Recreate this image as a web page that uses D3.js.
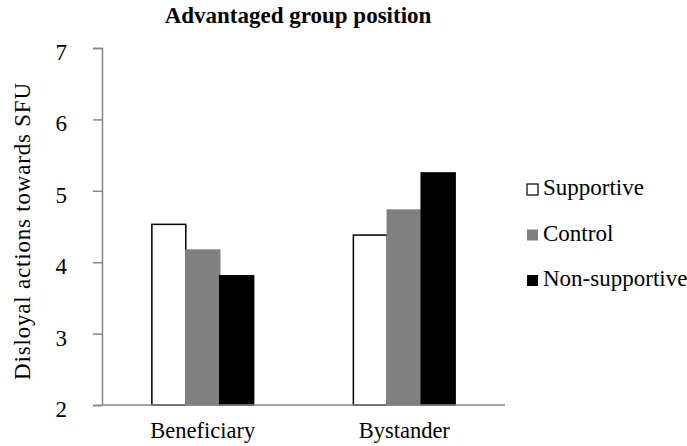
<!DOCTYPE html>
<html>
<head>
<meta charset="utf-8">
<script src="https://cdn.jsdelivr.net/npm/d3@7"></script>
<style>
  body { margin: 0; background: #fff; }
</style>
</head>
<body>
<script>
var groups = ["Beneficiary", "Bystander"];
var series = ["Supportive", "Control", "Non-supportive"];
var supportive = [4.53, 4.38];
var control = [4.17, 4.73];
var nonSupportive = [3.81, 5.25];
var yTicks = [2, 3, 4, 5, 6, 7];

var values = [supportive, control, nonSupportive];
var fills = ["#ffffff", "#808080", "#000000"];
var strokes = ["#000000", "#808080", "#000000"];
var serif = "'Liberation Serif', 'Times New Roman', serif";

var svg = d3.select("body").append("svg")
    .attr("width", 687)
    .attr("height", 446);

var x0 = d3.scaleBand()
    .domain(groups)
    .range([102, 505])
    .padding(0);

var x1 = d3.scaleBand()
    .domain(series)
    .range([0, x0.bandwidth()])
    .paddingInner(0)
    .paddingOuter(1.47);

var y = d3.scaleLinear()
    .domain([2, 7])
    .range([405, 48]);

// bars
series.forEach(function (s, si) {
    svg.append("g").selectAll("rect")
        .data(groups)
        .enter()
        .append("rect")
            .attr("x", function (g) { return x0(g) + x1(s); })
            .attr("y", function (g, i) { return y(values[si][i]); })
            .attr("width", x1.bandwidth())
            .attr("height", function (g, i) { return y(2) - y(values[si][i]); })
            .attr("fill", fills[si])
            .attr("stroke", strokes[si])
            .attr("stroke-width", 1.5);
});

// y axis
var yAxis = svg.append("g")
    .attr("transform", "translate(102,0)")
    .call(d3.axisLeft(y).tickValues(yTicks).tickSize(9).tickPadding(26).tickFormat(d3.format("d")));
yAxis.select(".domain").attr("stroke", "#868686").attr("stroke-width", 1.5);
yAxis.selectAll(".tick line").attr("stroke", "#868686").attr("stroke-width", 1.5);
yAxis.selectAll(".tick text")
    .style("font-family", serif)
    .style("font-size", "23px")
    .attr("fill", "#000")
    .attr("dy", "0.5em");

// x axis line
svg.append("line")
    .attr("x1", x0.range()[0]).attr("x2", x0.range()[1])
    .attr("y1", y(2)).attr("y2", y(2))
    .attr("stroke", "#868686")
    .attr("stroke-width", 1.5);

svg.append("g").selectAll("text")
    .data(groups)
    .enter()
    .append("text")
        .attr("x", function (g) { return x0(g) + x0.bandwidth() / 2; })
        .attr("y", 438)
        .attr("text-anchor", "middle")
        .style("font-family", serif)
        .style("font-size", "22.5px")
        .text(function (g) { return g; });

// title
svg.append("text")
    .attr("x", 298)
    .attr("y", 23)
    .attr("text-anchor", "middle")
    .style("font-family", serif)
    .style("font-size", "23px")
    .style("font-weight", "bold")
    .text("Advantaged group position");

// y label
svg.append("text")
    .attr("transform", "translate(30,231) rotate(-90)")
    .attr("text-anchor", "middle")
    .style("font-family", serif)
    .style("font-size", "23px")
    .style("letter-spacing", "0.8px")
    .text("Disloyal actions towards SFU");

// legend
var legend = svg.append("g").selectAll("g")
    .data(series)
    .enter()
    .append("g")
        .attr("transform", function (d, i) { return "translate(527," + (184 + i * 45.5) + ")"; });

legend.append("rect")
    .attr("width", 11)
    .attr("height", 11)
    .attr("fill", function (d, i) { return fills[i]; })
    .attr("stroke", function (d, i) { return i === 0 ? "#000" : "none"; })
    .attr("stroke-width", 1.2);

legend.append("text")
    .attr("x", 16)
    .attr("y", 11)
    .style("font-family", serif)
    .style("font-size", "23px")
    .text(function (d) { return d; });
</script>
</body>
</html>
